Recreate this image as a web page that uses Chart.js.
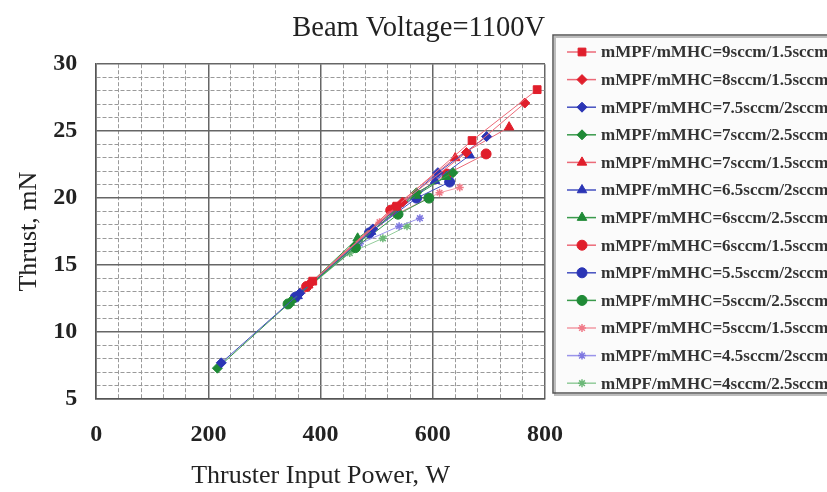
<!DOCTYPE html>
<html>
<head>
<meta charset="utf-8">
<script src="https://cdn.jsdelivr.net/npm/chart.js"></script>
<style>
  html, body { margin: 0; padding: 0; background: #fff; }
  #wrap { width: 827px; height: 492px; }
</style>
</head>
<body>
<div id="wrap"><canvas id="thrustChart" width="827" height="492"></canvas></div>
<script>
// flow rate cases (legend order)
const seriesLabels = [
  "mMPF/mMHC=9sccm/1.5sccm",
  "mMPF/mMHC=8sccm/1.5sccm",
  "mMPF/mMHC=7.5sccm/2sccm",
  "mMPF/mMHC=7sccm/2.5sccm",
  "mMPF/mMHC=7sccm/1.5sccm",
  "mMPF/mMHC=6.5sccm/2sccm",
  "mMPF/mMHC=6sccm/2.5sccm",
  "mMPF/mMHC=6sccm/1.5sccm",
  "mMPF/mMHC=5.5sccm/2sccm",
  "mMPF/mMHC=5sccm/2.5sccm",
  "mMPF/mMHC=5sccm/1.5sccm",
  "mMPF/mMHC=4.5sccm/2sccm",
  "mMPF/mMHC=4sccm/2.5sccm",
];

// input power (W) and thrust (mN)
const power9_15 = [386, 536, 670, 786];
const thrust9_15 = [13.8, 19.4, 24.3, 28.1];
const power8_15 = [381, 546, 660, 764];
const thrust8_15 = [13.6, 19.7, 23.4, 27.1];
const power75_2 = [223, 363, 493, 609, 696];
const thrust75_2 = [7.7, 12.9, 17.7, 21.9, 24.6];
const power7_25 = [216, 348, 461, 571, 636];
const thrust7_25 = [7.3, 12.3, 16.4, 20.4, 21.9];
const power7_15 = [378, 530, 640, 736];
const thrust7_15 = [13.5, 19.3, 23.0, 25.3];
const power65_2 = [359, 490, 604, 666];
const thrust65_2 = [12.7, 17.5, 21.3, 23.2];
const power6_25 = [345, 466, 570, 624];
const thrust6_25 = [12.2, 17.0, 20.2, 21.6];
const power6_15 = [375, 525, 625, 695];
const thrust6_15 = [13.4, 19.1, 21.8, 23.3];
const power55_2 = [355, 487, 571, 630];
const thrust55_2 = [12.6, 17.4, 20.0, 21.2];
const power5_25 = [342, 462, 538, 593];
const thrust5_25 = [12.1, 16.3, 18.8, 20.0];
const power5_15 = [368, 505, 612, 648];
const thrust5_15 = [13.1, 18.2, 20.4, 20.8];
const power45_2 = [352, 470, 540, 577];
const thrust45_2 = [12.5, 16.6, 17.9, 18.5];
const power4_25 = [340, 452, 511, 554];
const thrust4_25 = [12.0, 15.9, 17.0, 17.9];

const xTicks = [0, 200, 400, 600, 800];
const yTicks = [5, 10, 15, 20, 25, 30];

const powers = [power9_15, power8_15, power75_2, power7_25, power7_15, power65_2, power6_25,
  power6_15, power55_2, power5_25, power5_15, power45_2, power4_25];
const thrusts = [thrust9_15, thrust8_15, thrust75_2, thrust7_25, thrust7_15, thrust65_2, thrust6_25,
  thrust6_15, thrust55_2, thrust5_25, thrust5_15, thrust45_2, thrust4_25];

const red = "#e01e2b";
const blue = "#2b35b5";
const green = "#1f8a36";
const styles = [
  { color: red, line: "#ec6a78", point: "rect", r: 5.5 },
  { color: red, line: "#ec6a78", point: "rectRot", r: 5 },
  { color: blue, line: "#4450c0", point: "rectRot", r: 5 },
  { color: green, line: "#3a9a4c", point: "rectRot", r: 5 },
  { color: red, line: "#ec6a78", point: "triangle", r: 5.5 },
  { color: blue, line: "#4450c0", point: "triangle", r: 5.5 },
  { color: green, line: "#3a9a4c", point: "triangle", r: 5.5 },
  { color: red, line: "#ec6a78", point: "circle", r: 5 },
  { color: blue, line: "#4450c0", point: "circle", r: 5 },
  { color: green, line: "#3a9a4c", point: "circle", r: 5 },
  { color: "#f07a88", line: "#f29aa4", point: "star", r: 4 },
  { color: "#7f78e0", line: "#9a94ea", point: "star", r: 4 },
  { color: "#6cb878", line: "#93cc9b", point: "star", r: 4 },
];

const serif = "'Liberation Serif', 'Times New Roman', serif";

const datasets = seriesLabels.map((label, i) => ({
  label: label,
  data: powers[i].map((p, j) => ({ x: p, y: thrusts[i][j] })),
  showLine: true,
  borderColor: styles[i].line,
  borderWidth: 1,
  backgroundColor: styles[i].color,
  pointBorderColor: styles[i].color,
  pointBackgroundColor: styles[i].color,
  pointStyle: styles[i].point,
  pointRadius: styles[i].r,
  pointBorderWidth: styles[i].point === "star" ? 1.5 : 1,
}));

// legend in a framed box on the right, line + marker per entry
const boxLegend = {
  id: "boxLegend",
  afterDraw(chart) {
    const ctx = chart.ctx;
    const left = 553, top = 35, right = 840, bottom = 393;
    ctx.save();
    ctx.fillStyle = "#fbfbfb";
    ctx.fillRect(left, top, right - left, bottom - top);
    ctx.strokeStyle = "#bdbdbd";
    ctx.lineWidth = 2;
    ctx.strokeRect(left + 2, top + 2, right - left, bottom - top);
    ctx.strokeStyle = "#555";
    ctx.lineWidth = 1.5;
    ctx.strokeRect(left, top, right - left, bottom - top);

    chart.data.datasets.forEach((ds, i) => {
      const y = 52 + i * 27.6;
      ctx.strokeStyle = ds.borderColor;
      ctx.lineWidth = 1.5;
      ctx.beginPath();
      ctx.moveTo(567, y);
      ctx.lineTo(596, y);
      ctx.stroke();
      ctx.fillStyle = ds.pointBackgroundColor;
      ctx.strokeStyle = ds.pointBorderColor;
      ctx.lineWidth = ds.pointBorderWidth;
      Chart.helpers.drawPoint(ctx, {
        pointStyle: ds.pointStyle,
        radius: ds.pointRadius,
        rotation: 0,
        borderWidth: ds.pointBorderWidth,
      }, 582, y);
      ctx.fillStyle = "#333";
      ctx.font = "bold 17px " + serif;
      ctx.textBaseline = "middle";
      ctx.fillText(ds.label, 601, y + 1);
    });
    ctx.restore();
  },
};

new Chart(document.getElementById("thrustChart"), {
  type: "scatter",
  data: { datasets: datasets },
  plugins: [boxLegend],
  options: {
    responsive: false,
    animation: false,
    layout: { padding: { left: 10, right: 282, top: 4, bottom: 0 } },
    plugins: {
      legend: { display: false },
      tooltip: { enabled: false },
      title: {
        display: true,
        align: "end",
        text: "Beam Voltage=1100V",
        color: "#222",
        font: { family: serif, size: 28.5, weight: "normal" },
        padding: { top: 7, bottom: 19 },
      },
    },
    scales: {
      x: {
        type: "linear",
        min: 0,
        max: 800,
        afterBuildTicks(axis) {
          axis.ticks = [];
          for (let v = 0; v <= 800; v += 40) axis.ticks.push({ value: v });
        },
        ticks: {
          autoSkip: false,
          maxRotation: 0,
          padding: 0,
          color: "#222",
          font: { family: serif, size: 24, weight: "bold" },
          callback: (v) => (xTicks.includes(v) ? v : ""),
        },
        grid: {
          drawTicks: true,
          tickLength: 21,
          tickColor: "rgba(0,0,0,0)",
          color: (c) => (c.tick && c.tick.value % 200 === 0 ? "#666" : "#9a9a9a"),
          lineWidth: (c) => (c.tick && c.tick.value % 200 === 0 ? 1.5 : 1),
        },
        border: {
          display: true,
          color: "#555",
          width: 1.5,
          dash: (c) => (c.tick && c.tick.value % 200 === 0 ? [] : [4, 2]),
        },
        title: {
          display: true,
          text: "Thruster Input Power, W",
          color: "#222",
          font: { family: serif, size: 26, weight: "normal" },
          padding: { top: 12, bottom: 0 },
        },
      },
      y: {
        type: "linear",
        min: 5,
        max: 30,
        afterBuildTicks(axis) {
          axis.ticks = [];
          for (let v = 5; v <= 30; v += 1) axis.ticks.push({ value: v });
        },
        ticks: {
          autoSkip: false,
          padding: 0,
          color: "#222",
          font: { family: serif, size: 24, weight: "bold" },
          callback: (v) => (yTicks.includes(v) ? v : ""),
        },
        grid: {
          drawTicks: true,
          tickLength: 19,
          tickColor: "rgba(0,0,0,0)",
          color: (c) => (c.tick && c.tick.value % 5 === 0 ? "#666" : "#9a9a9a"),
          lineWidth: (c) => (c.tick && c.tick.value % 5 === 0 ? 1.5 : 1),
        },
        border: {
          display: true,
          color: "#555",
          width: 1.5,
          dash: (c) => (c.tick && c.tick.value % 5 === 0 ? [] : [4, 2]),
        },
        title: {
          display: true,
          text: "Thrust, mN",
          color: "#222",
          font: { family: serif, size: 26, weight: "normal" },
          padding: { top: 4, bottom: 8 },
        },
      },
    },
  },
});
</script>
</body>
</html>
